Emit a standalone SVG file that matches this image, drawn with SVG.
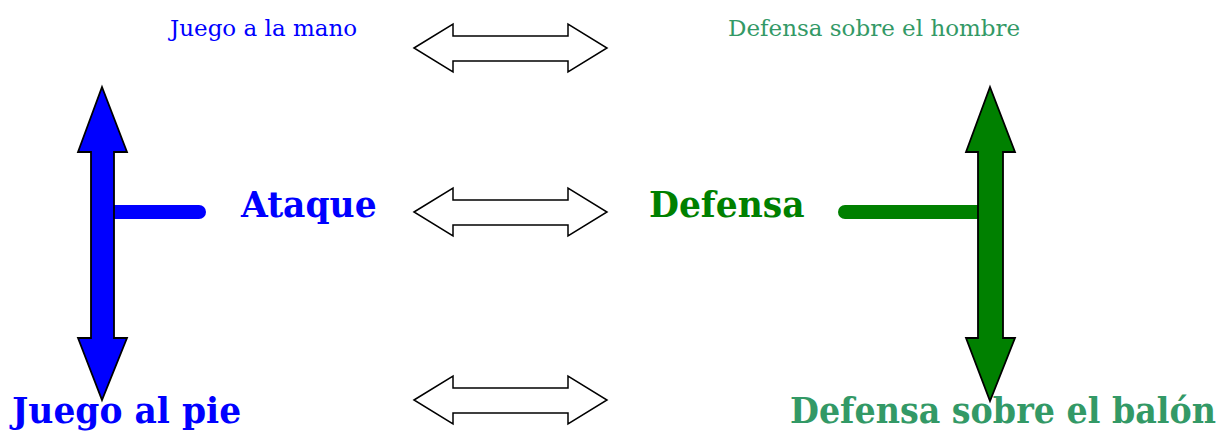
<svg xmlns="http://www.w3.org/2000/svg" width="1230" height="432" viewBox="0 0 1230 432">
<style>
.small{font-family:"DejaVu Serif",serif;font-size:23px}
.big{font-family:"DejaVu Serif",serif;font-size:34.5px;font-weight:bold}
.dbl{fill:#fff;stroke:#000;stroke-width:1.5;stroke-linejoin:miter}
.va{stroke:#000;stroke-width:1.8}
</style>
<defs>
<path id="dbl" d="M414,0 L453,-24 L453,-12 L568,-12 L568,-24 L607,0 L568,24 L568,13 L453,13 L453,24 Z"/>
</defs>
<g id="connectors">
<use href="#dbl" class="dbl" y="48"/>
<use href="#dbl" class="dbl" y="212"/>
<use href="#dbl" class="dbl" y="400"/>
</g>
<g id="ataque-axis">
<line x1="105" y1="212" x2="199" y2="212" stroke="#0000ff" stroke-width="14" stroke-linecap="round"/>
<path class="va" fill="#0000ff" d="M102,87 L127,152 L114,152 L114,338 L127,338 L102,400 L78,338 L91,338 L91,152 L78,152 Z"/>
</g>
<g id="defensa-axis">
<line x1="845" y1="212" x2="985" y2="212" stroke="#008000" stroke-width="14" stroke-linecap="round"/>
<path class="va" fill="#008000" d="M990,87 L1015,152 L1003,152 L1003,338 L1015,338 L990,401 L966,338 L978,338 L978,152 L966,152 Z"/>
</g>
<g id="juego-mano"><text class="small" x="170" y="36" fill="#0000ff">Juego a la mano</text></g>
<g id="defensa-hombre"><text class="small" x="728" y="36" fill="#339966">Defensa sobre el hombre</text></g>
<g id="ataque"><text class="big" x="241" y="217" fill="#0000ff">Ataque</text></g>
<g id="defensa"><text class="big" x="649" y="217" fill="#008000">Defensa</text></g>
<g id="juego-pie"><text class="big" x="12" y="423" fill="#0000ff">Juego al pie</text></g>
<g id="defensa-balon"><text class="big" x="790" y="423" fill="#339966" textLength="426" lengthAdjust="spacingAndGlyphs">Defensa sobre el balón</text></g>
</svg>
